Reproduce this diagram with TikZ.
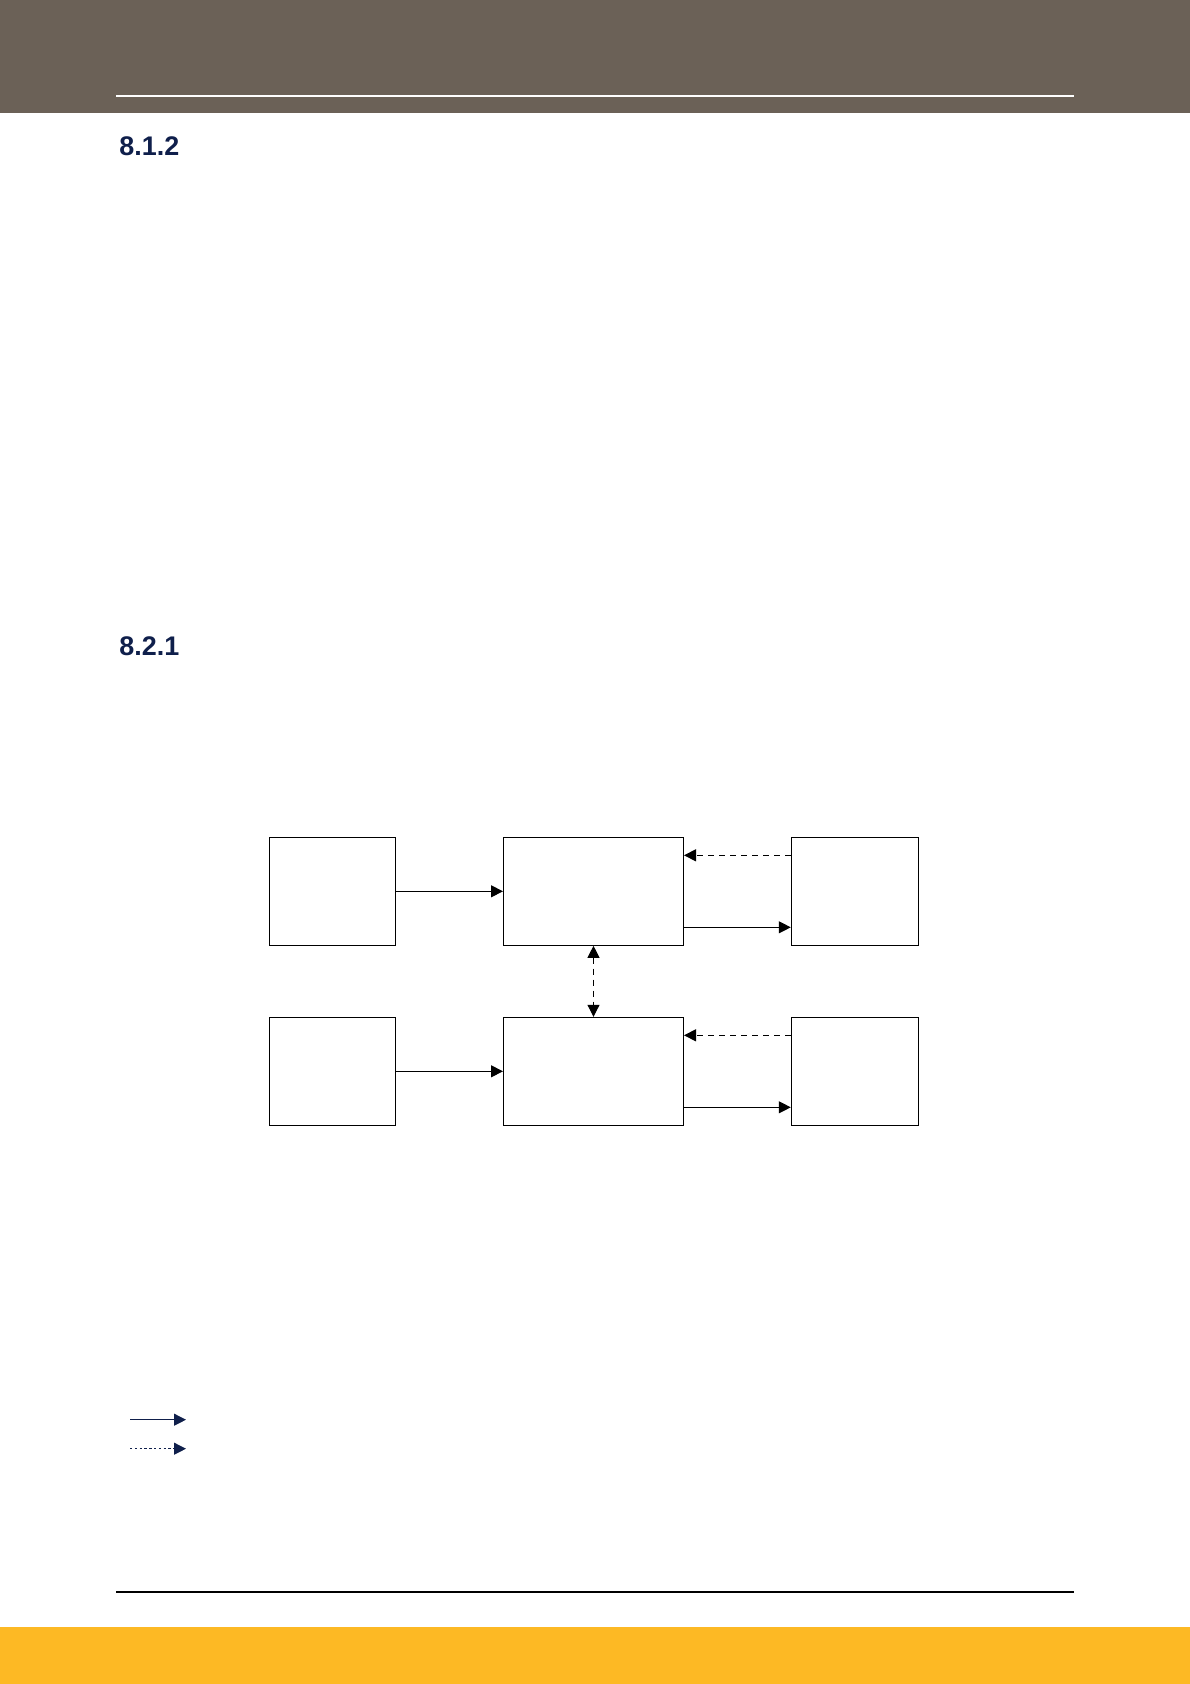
\documentclass[tikz,border=0pt]{standalone}
\usepackage{fontspec}
\setmainfont{Liberation Sans}
\usetikzlibrary{arrows.meta}
\definecolor{headbrown}{HTML}{6B6157}
\definecolor{footyellow}{HTML}{FDB924}
\definecolor{navy}{HTML}{0F1F4B}

\begin{document}
\begin{tikzpicture}[x=0.5bp, y=-0.5bp,
  blk/.style={draw, line width=0.5bp, inner sep=0pt},
  flow/.style={line width=0.5bp, -{Triangle[length=6bp, width=6bp]}},
  ctrl/.style={flow, dash pattern=on 3bp off 2.5bp},
  heading/.style={anchor=base west, inner sep=0pt, text=navy, font=\fontsize{13.5}{16}\selectfont\bfseries}]
\useasboundingbox (0,0) rectangle (1190,1684);
% page frame
\fill [headbrown] (0,0) rectangle (1190,112.7);
\draw [white, line width=0.6bp] (116,96) -- (1074,96);
\draw [black, line width=1bp] (116,1591.7) -- (1074,1591.7);
\fill [footyellow] (0,1626.7) rectangle (1190,1684);
\node [heading] (h812) at (119,155) {8.1.2};
\node [heading] (h821) at (119,655) {8.2.1};
% boxes
\node [blk, minimum width=63bp, minimum height=54bp] (in1) at (332.6,891.3) {};
\node [blk, minimum width=90bp, minimum height=54bp] (core1) at (593.5,891.3) {};
\node [blk, minimum width=63.5bp, minimum height=54bp] (out1) at (854.8,891.3) {};
\node [blk, minimum width=63bp, minimum height=54bp] (in2) at (332.6,1071.3) {};
\node [blk, minimum width=90bp, minimum height=54bp] (core2) at (593.5,1071.3) {};
\node [blk, minimum width=63.5bp, minimum height=54bp] (out2) at (854.8,1071.3) {};
% connectors
\draw [flow] (in1) -- (core1);
\draw [flow] ([yshift=-18bp]core1.east) -- ([yshift=-18bp]out1.west);
\draw [ctrl] ([yshift=18bp]out1.west) -- ([yshift=18bp]core1.east);
\draw [flow] (in2) -- (core2);
\draw [flow] ([yshift=-18bp]core2.east) -- ([yshift=-18bp]out2.west);
\draw [ctrl] ([yshift=18bp]out2.west) -- ([yshift=18bp]core2.east);
\draw [ctrl, {Triangle[length=6bp, width=6bp]}-{Triangle[length=6bp, width=6bp]}] (core1) -- (core2);
% legend
\coordinate (solidA) at (130,1419.7);
\coordinate (solidB) at (186,1419.7);
\coordinate (dotA) at (130,1448.7);
\coordinate (dotB) at (186,1448.7);
\draw [flow, navy] (solidA) -- (solidB);
\draw [flow, navy, dash pattern=on 1.2bp off 1.2bp] (dotA) -- (dotB);
\end{tikzpicture}
\end{document}
